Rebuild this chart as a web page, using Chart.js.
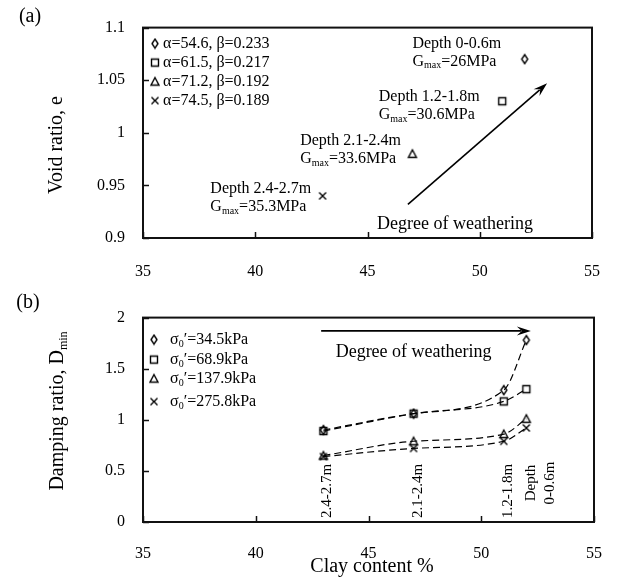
<!DOCTYPE html>
<html>
<head>
<meta charset="utf-8">
<script src="https://cdn.jsdelivr.net/npm/chart.js@4.4.0/dist/chart.umd.min.js"></script>
<style>
    html, body { margin: 0; padding: 0; background: #fff; }
    #wrap { position: relative; width: 624px; height: 579px; }
    #chartA { position: absolute; left: 0; top: 0; }
    #chartB { position: absolute; left: 0; top: 290px; }
</style>
</head>
<body>
<div id="wrap">
    <canvas id="chartA" width="624" height="290"></canvas>
    <canvas id="chartB" width="624" height="289"></canvas>
</div>
<script>
(function () {
    'use strict';

    // ---- data ----
    var xTicks = [35, 40, 45, 50, 55];
    var yTicksA = [0.9, 0.95, 1, 1.05, 1.1];
    var yTicksB = [0, 0.5, 1, 1.5, 2];

    // (a) void ratio vs clay content
    var clayA = [52, 51, 47, 43];
    var voidRatio = [1.07, 1.03, 0.98, 0.94];
    var fitLabels = ['α=54.6, β=0.233', 'α=61.5, β=0.217', 'α=71.2, β=0.192', 'α=74.5, β=0.189'];
    var depthLabels = ['Depth 0-0.6m', 'Depth 1.2-1.8m', 'Depth 2.1-2.4m', 'Depth 2.4-2.7m'];
    var gmaxLabels = ['=26MPa', '=30.6MPa', '=33.6MPa', '=35.3MPa'];
    // where the depth notes sit (clay %, void ratio of first line)
    var depthNoteX = [47.0, 45.5, 42.0, 38.0];
    var depthNoteY = [1.085, 1.034, 0.992, 0.947];

    // (b) damping ratio vs clay content
    var clayB = [43, 47, 51, 52];
    var damp345 = [0.90, 1.06, 1.29, 1.78];
    var damp689 = [0.89, 1.06, 1.18, 1.30];
    var damp1379 = [0.65, 0.79, 0.86, 1.01];
    var damp2758 = [0.64, 0.72, 0.79, 0.92];
    var stressLabels = ['=34.5kPa', '=68.9kPa', '=137.9kPa', '=275.8kPa'];
    var depthTags = ['2.4-2.7m', '2.1-2.4m', '1.2-1.8m', 'Depth\n0-0.6m'];

    var markerKinds = ['diamond', 'square', 'triangle', 'cross'];

    // ---- helpers ----
    function fontStr(size) {
        return size + 'px "Liberation Serif", "Times New Roman", serif';
    }

    function makeMarker(kind) {
        var c = document.createElement('canvas');
        c.width = 12;
        c.height = 12;
        var g = c.getContext('2d');
        g.strokeStyle = '#000';
        g.lineWidth = 1.4;
        g.beginPath();
        if (kind === 'diamond') {
            g.moveTo(6, 1.5); g.lineTo(9, 6); g.lineTo(6, 10.5); g.lineTo(3, 6); g.closePath();
        } else if (kind === 'square') {
            g.rect(2.5, 2.5, 7, 7);
        } else if (kind === 'triangle') {
            g.moveTo(6, 2); g.lineTo(10, 9.5); g.lineTo(2, 9.5); g.closePath();
        } else {
            g.moveTo(2.5, 2.5); g.lineTo(9.5, 9.5); g.moveTo(9.5, 2.5); g.lineTo(2.5, 9.5);
        }
        g.stroke();
        return c;
    }
    var markers = {};
    markerKinds.forEach(function (k) { markers[k] = makeMarker(k); });

    // parts: [[text, isSub], ...]
    function drawRich(ctx, parts, x, y, size, align) {
        var widths = parts.map(function (p) {
            ctx.font = fontStr(p[1] ? Math.round(size * 0.62) : size);
            return ctx.measureText(p[0]).width;
        });
        var total = widths.reduce(function (a, b) { return a + b; }, 0);
        var cx = align === 'center' ? x - total / 2 : (align === 'right' ? x - total : x);
        ctx.textAlign = 'left';
        ctx.textBaseline = 'middle';
        ctx.fillStyle = '#000';
        parts.forEach(function (p, i) {
            ctx.font = fontStr(p[1] ? Math.round(size * 0.62) : size);
            ctx.fillText(p[0], cx, p[1] ? y + size * 0.28 : y);
            cx += widths[i];
        });
    }

    function drawArrow(ctx, x1, y1, x2, y2) {
        var ang = Math.atan2(y2 - y1, x2 - x1);
        var c = Math.cos(ang), s = Math.sin(ang);
        var len = 14, half = 4.5;
        ctx.save();
        ctx.strokeStyle = '#000';
        ctx.fillStyle = '#000';
        ctx.lineWidth = 1.6;
        ctx.beginPath();
        ctx.moveTo(x1, y1);
        ctx.lineTo(x2 - c * len * 0.7, y2 - s * len * 0.7);
        ctx.stroke();
        ctx.beginPath();
        ctx.moveTo(x2, y2);
        ctx.lineTo(x2 - len * c + half * s, y2 - len * s - half * c);
        ctx.lineTo(x2 - len * 0.65 * c, y2 - len * 0.65 * s);
        ctx.lineTo(x2 - len * c - half * s, y2 - len * s + half * c);
        ctx.closePath();
        ctx.fill();
        ctx.restore();
    }

    // box round the plot and inward tick marks
    var framePlugin = {
        id: 'frame',
        afterDraw: function (chart) {
            var a = chart.chartArea, ctx = chart.ctx;
            var sx = chart.scales.x, sy = chart.scales.y;
            ctx.save();
            ctx.strokeStyle = '#111';
            ctx.lineWidth = 1.5;
            ctx.beginPath();
            sx.ticks.forEach(function (t) {
                var px = Math.round(sx.getPixelForValue(t.value)) + 0.5;
                ctx.moveTo(px, a.bottom);
                ctx.lineTo(px, a.bottom - 6);
            });
            sy.ticks.forEach(function (t) {
                var py = Math.round(sy.getPixelForValue(t.value)) + 0.5;
                ctx.moveTo(a.left, py);
                ctx.lineTo(a.left + 6, py);
            });
            ctx.stroke();
            ctx.lineWidth = 2;
            ctx.strokeRect(a.left, a.top, a.right - a.left, a.bottom - a.top);
            ctx.restore();
        }
    };

    function xAxis(height, pad) {
        return {
            type: 'linear',
            min: 35,
            max: 55,
            afterBuildTicks: function (s) { s.ticks = xTicks.map(function (v) { return { value: v }; }); },
            afterFit: function (s) { s.height = height; },
            grid: { display: false, drawTicks: false },
            border: { display: false },
            ticks: { color: '#000', padding: pad, font: { family: '"Liberation Serif"', size: 16 } }
        };
    }

    function yAxis(min, max, ticks) {
        return {
            type: 'linear',
            min: min,
            max: max,
            afterBuildTicks: function (s) { s.ticks = ticks.map(function (v) { return { value: v }; }); },
            afterFit: function (s) { s.width = 143; },
            grid: { display: false, drawTicks: false },
            border: { display: false },
            ticks: {
                color: '#000',
                padding: 18,
                font: { family: '"Liberation Serif"', size: 16 },
                callback: function (v) { return String(v); }
            }
        };
    }

    // ---- (a) ----
    var notesA = {
        id: 'notesA',
        afterDraw: function (chart) {
            var ctx = chart.ctx, a = chart.chartArea;
            var sx = chart.scales.x, sy = chart.scales.y;
            ctx.save();

            // legend
            fitLabels.forEach(function (txt, i) {
                var y = a.top + 16 + i * 19;
                ctx.drawImage(markers[markerKinds[i]], a.left + 12 - 6, y - 6);
                drawRich(ctx, [[txt]], a.left + 20, y, 16, 'left');
            });

            // depth notes
            depthLabels.forEach(function (txt, i) {
                var x = sx.getPixelForValue(depthNoteX[i]);
                var y = sy.getPixelForValue(depthNoteY[i]);
                drawRich(ctx, [[txt]], x, y, 16, 'left');
                drawRich(ctx, [['G'], ['max', 1], [gmaxLabels[i]]], x, y + 18, 16, 'left');
            });

            drawArrow(ctx, sx.getPixelForValue(46.8), sy.getPixelForValue(0.932),
                sx.getPixelForValue(53.0), sy.getPixelForValue(1.047));
            drawRich(ctx, [['Degree of weathering']], sx.getPixelForValue(48.9), sy.getPixelForValue(0.9135), 18, 'center');

            // titles
            drawRich(ctx, [['(a)']], 30, 17, 20, 'center');
            ctx.translate(57, 145);
            ctx.rotate(-Math.PI / 2);
            drawRich(ctx, [['Void ratio, e']], 0, 0, 20, 'center');
            ctx.restore();
        }
    };

    new Chart(document.getElementById('chartA'), {
        type: 'scatter',
        data: {
            datasets: clayA.map(function (c, i) {
                return {
                    label: fitLabels[i],
                    data: [{ x: c, y: voidRatio[i] }],
                    pointStyle: markers[markerKinds[i]],
                    pointRadius: 4,
                    borderColor: '#000',
                    backgroundColor: 'transparent'
                };
            })
        },
        options: {
            responsive: false,
            animation: false,
            layout: { padding: { left: 0, right: 21, top: 16, bottom: 0 } },
            plugins: { legend: { display: false }, tooltip: { enabled: false } },
            scales: { x: xAxis(52, 24), y: yAxis(0.9, 1.1, yTicksA) }
        },
        plugins: [framePlugin, notesA]
    });

    // ---- (b) ----
    var seriesB = [damp345, damp689, damp1379, damp2758];

    var notesB = {
        id: 'notesB',
        afterDraw: function (chart) {
            var ctx = chart.ctx, a = chart.chartArea;
            var sx = chart.scales.x, sy = chart.scales.y;
            ctx.save();

            // legend
            var rows = [22, 42, 61, 84];
            stressLabels.forEach(function (txt, i) {
                var y = a.top + rows[i];
                ctx.drawImage(markers[markerKinds[i]], a.left + 11 - 6, y - 6);
                drawRich(ctx, [['σ'], ['0', 1], ['′' + txt]], a.left + 27, y, 16, 'left');
            });

            drawArrow(ctx, sx.getPixelForValue(42.9), sy.getPixelForValue(1.87),
                sx.getPixelForValue(52.2), sy.getPixelForValue(1.87));
            drawRich(ctx, [['Degree of weathering']], sx.getPixelForValue(47.0), sy.getPixelForValue(1.66), 18, 'center');

            // vertical depth tags
            ctx.fillStyle = '#000';
            ctx.font = fontStr(15);
            ctx.textBaseline = 'middle';
            depthTags.forEach(function (tag, i) {
                var px = sx.getPixelForValue(clayB[i]);
                var lines = tag.split('\n');
                ctx.save();
                if (lines.length === 1) {
                    ctx.translate(px + 4, a.bottom - 4);
                    ctx.rotate(-Math.PI / 2);
                    ctx.textAlign = 'left';
                    ctx.fillText(lines[0], 0, 0);
                } else {
                    ctx.translate(px + 14, a.bottom - 39);
                    ctx.rotate(-Math.PI / 2);
                    ctx.textAlign = 'center';
                    ctx.fillText(lines[0], 0, -9.5);
                    ctx.fillText(lines[1], 0, 9.5);
                }
                ctx.restore();
            });

            // titles
            drawRich(ctx, [['(b)']], 28, 13, 20, 'center');
            drawRich(ctx, [['Clay content %']], 372, 277, 20, 'center');
            ctx.translate(58, 121);
            ctx.rotate(-Math.PI / 2);
            drawRich(ctx, [['Damping ratio, D'], ['min', 1]], 0, 0, 20, 'center');
            ctx.restore();
        }
    };

    new Chart(document.getElementById('chartB'), {
        type: 'scatter',
        data: {
            datasets: seriesB.map(function (vals, i) {
                return {
                    label: stressLabels[i],
                    data: clayB.map(function (c, j) { return { x: c, y: vals[j] }; }),
                    showLine: true,
                    borderColor: '#000',
                    borderWidth: 1.2,
                    borderDash: [7, 4],
                    cubicInterpolationMode: 'monotone',
                    pointStyle: markers[markerKinds[i]],
                    pointRadius: 4,
                    backgroundColor: 'transparent'
                };
            })
        },
        options: {
            responsive: false,
            animation: false,
            layout: { padding: { left: 0, right: 21, top: 13, bottom: 0 } },
            plugins: { legend: { display: false }, tooltip: { enabled: false } },
            scales: { x: xAxis(57, 22), y: yAxis(0, 2, yTicksB) }
        },
        plugins: [framePlugin, notesB]
    });
})();
</script>
</body>
</html>
